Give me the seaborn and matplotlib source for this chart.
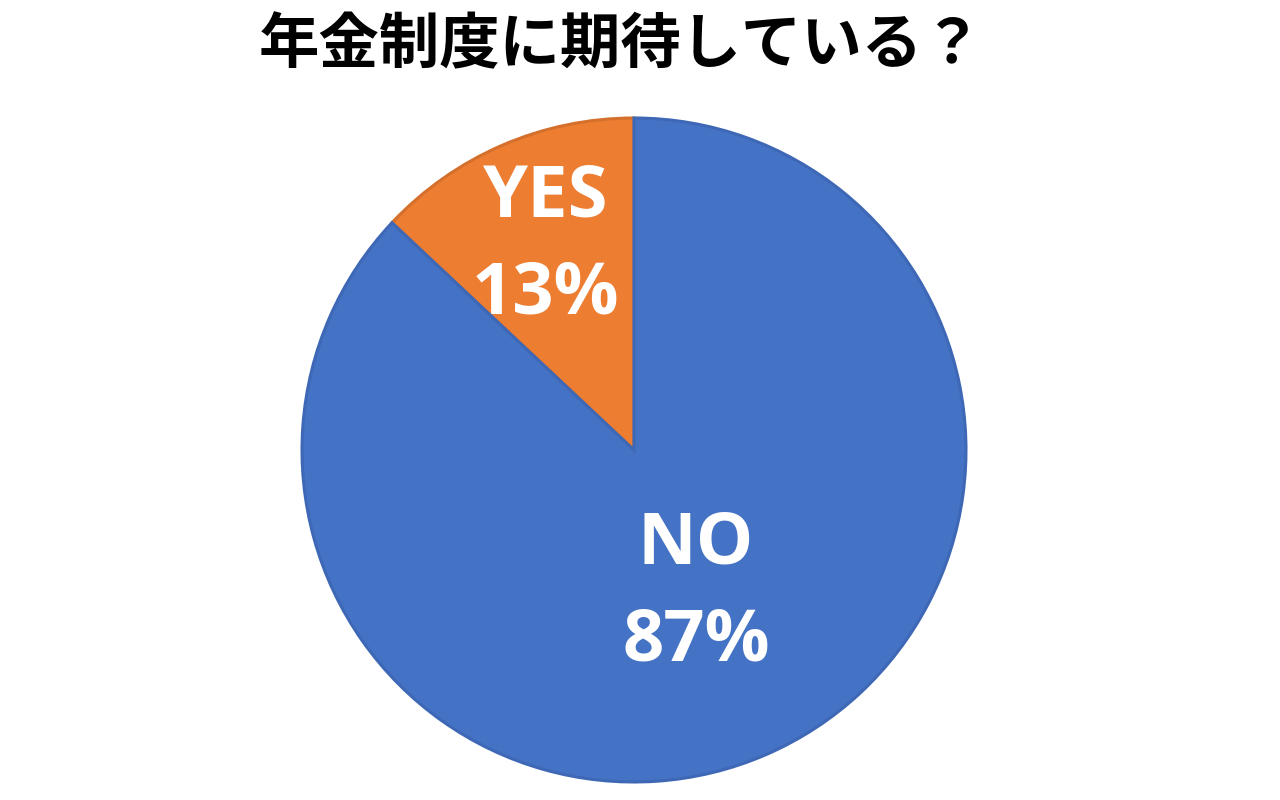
import numpy as np
import matplotlib
matplotlib.use("Agg")
import matplotlib.pyplot as plt
import seaborn as sns

# data
labels = ["YES", "NO"]
shares = [13, 87]
colors = ["#ED7D31", "#4472C4"]
edge_colors = ["#D4702C", "#3E68B6"]

title = "年金制度に期待している？"

sns.set_theme(style="white")
plt.rcParams['font.family'] = ['Noto Sans CJK JP', 'DejaVu Sans']

fig = plt.figure(figsize=(12.8, 8), dpi=100)
fig.patch.set_facecolor("white")

# pie center ~ (634, 450) px, radius ~332 px
cx, cy, r = 634, 450, 332
ax = fig.add_axes([(cx - r) / 1280, (800 - cy - r) / 800, 2 * r / 1280, 2 * r / 800])

wedges, _ = ax.pie(shares, colors=colors, startangle=90, counterclock=True,
                   wedgeprops=dict(linewidth=2.2))
for w, ec in zip(wedges, edge_colors):
    w.set_edgecolor(ec)
    w.set_clip_on(False)
ax.set_xlim(-1, 1)
ax.set_ylim(-1, 1)
ax.set_aspect("equal")
ax.axis("off")

# labels inside the slices
label_dist = [0.67, 0.47]
total = sum(shares)
start = 90.0
for lab, val, d in zip(labels, shares, label_dist):
    sweep = 360.0 * val / total
    mid = np.deg2rad(start + sweep / 2)
    start += sweep
    ax.text(d * np.cos(mid), d * np.sin(mid), f"{lab}\n{val}%",
            ha="center", va="center", color="white", fontsize=52,
            fontweight="bold", linespacing=1.45,
            family=['Open Sans', 'Noto Sans CJK JP'])

fig.text(621 / 1280, 1 - 46 / 800, title, ha="center", va="center",
         fontsize=43.5, fontweight="bold", color="black")

fig.savefig("out.png", dpi=100, facecolor="white")
